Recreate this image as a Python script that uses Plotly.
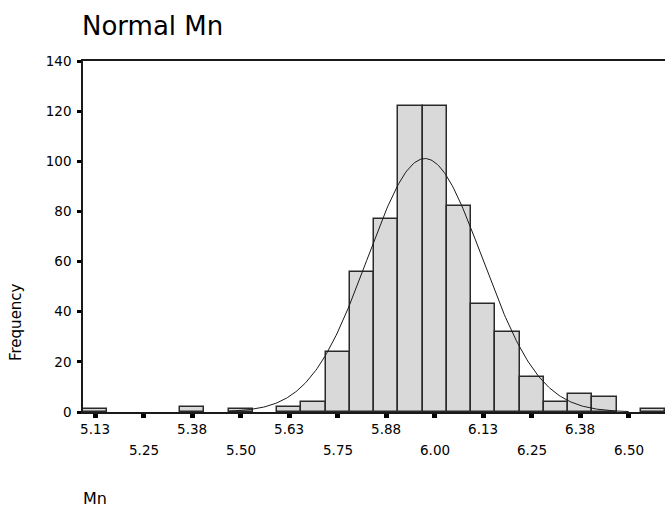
import numpy as np
import plotly.graph_objects as go

# Histogram of Mn: bin centres (width 0.0625) and frequencies
bin_width = 0.0625
bin_centers = [5.125, 5.1875, 5.25, 5.3125, 5.375, 5.4375, 5.5, 5.5625,
               5.625, 5.6875, 5.75, 5.8125, 5.875, 5.9375, 6.0, 6.0625,
               6.125, 6.1875, 6.25, 6.3125, 6.375, 6.4375, 6.5, 6.5625]
counts = [1, 0, 0, 0, 2, 0, 1, 0,
          2, 4, 24, 56, 77, 122, 122, 82,
          43, 32, 14, 4, 7, 6, 0, 1]

# Fitted normal curve parameters
mn_mean = 5.975
mn_sd = 0.148
curve_start, curve_end = 5.47, 6.50

# Axis ticks: every 0.125, labels alternate between two rows
tick_vals = [5.125, 5.25, 5.375, 5.5, 5.625, 5.75, 5.875, 6.0, 6.125, 6.25, 6.375, 6.5]
tick_labels = ["5.13", "5.25", "5.38", "5.50", "5.63", "5.75",
               "5.88", "6.00", "6.13", "6.25", "6.38", "6.50"]
y_ticks = [0, 20, 40, 60, 80, 100, 120, 140]

FONT = "DejaVu Sans"
TICK_SIZE = 13.5

n_total = sum(counts)
xc = np.linspace(curve_start, curve_end, 300)
yc = n_total * bin_width / (mn_sd * np.sqrt(2 * np.pi)) * np.exp(-0.5 * ((xc - mn_mean) / mn_sd) ** 2)

# Empty bins draw nothing
bar_x = [c for c, n in zip(bin_centers, counts) if n > 0]
bar_y = [n for n in counts if n > 0]

fig = go.Figure()
fig.add_trace(go.Bar(
    x=bar_x, y=bar_y, width=bin_width,
    marker=dict(color="#d9d9d9", line=dict(color="#2a2a2a", width=1.5)),
    showlegend=False, hoverinfo="x+y",
))
fig.add_trace(go.Scatter(
    x=xc, y=yc, mode="lines",
    line=dict(color="#1a1a1a", width=1),
    showlegend=False, hoverinfo="skip",
))

row1_text = [t if i % 2 == 0 else "" for i, t in enumerate(tick_labels)]

fig.update_layout(
    width=665, height=509,
    margin=dict(l=83, r=0, t=61, b=97),
    paper_bgcolor="white", plot_bgcolor="white",
    bargap=0,
    font=dict(family=FONT, size=13, color="black"),
    xaxis=dict(
        range=[5.09375, 6.59375],
        tickmode="array", tickvals=tick_vals, ticktext=row1_text,
        ticks="outside", ticklen=4, tickwidth=5, tickcolor="black",
        showline=True, linecolor="#1a1a1a", linewidth=1.5, mirror=True,
        showgrid=False, zeroline=False,
        tickfont=dict(family=FONT, size=TICK_SIZE, color="black"),
    ),
    yaxis=dict(
        range=[0, 140],
        tickmode="array", tickvals=y_ticks,
        ticks="outside", ticklen=4, tickwidth=3, tickcolor="black",
        showline=True, linecolor="#1a1a1a", linewidth=1.5,
        showgrid=False, zeroline=False,
        tickfont=dict(family=FONT, size=TICK_SIZE, color="black"),
        ticklabelstandoff=3,
    ),
)

# Second row of x tick labels
for i, t in enumerate(tick_labels):
    if i % 2 == 1:
        fig.add_annotation(
            x=tick_vals[i], xref="x", y=0, yref="paper",
            text=t, showarrow=False, xanchor="center", yanchor="top",
            yshift=-28, font=dict(family=FONT, size=TICK_SIZE, color="black"),
        )

# Title
fig.add_annotation(
    x=0, xref="paper", xanchor="left", xshift=-3,
    y=1, yref="paper", yanchor="bottom", yshift=18,
    text="Normal Mn", showarrow=False,
    font=dict(family=FONT, size=26, color="black"),
)
# Vertical axis title
fig.add_annotation(
    x=(16 - 83) / 582, xref="paper", xanchor="center",
    y=(412 - 322) / 351, yref="paper", yanchor="middle",
    text="Frequency", showarrow=False, textangle=-90,
    font=dict(family=FONT, size=15, color="black"),
)
# Horizontal axis title
fig.add_annotation(
    x=0, xref="paper", xanchor="left", xshift=-2,
    y=0, yref="paper", yanchor="middle", yshift=-86,
    text="Mn", showarrow=False,
    font=dict(family=FONT, size=16, color="black"),
)

fig.write_html("out.html")
